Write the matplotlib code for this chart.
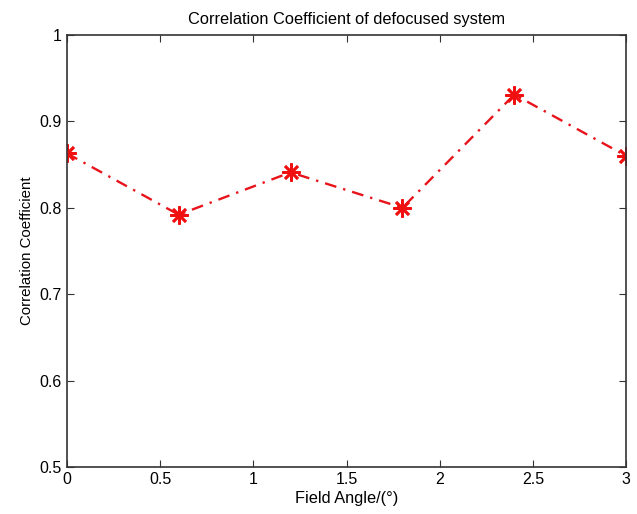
import matplotlib.pyplot as plt
import numpy as np

field_angle = [0, 0.6, 1.2, 1.8, 2.4, 3.0]
corr_coef = [0.863, 0.792, 0.841, 0.800, 0.931, 0.860]

xticks = [0, 0.5, 1, 1.5, 2, 2.5, 3]
xticklabels = ["0", "0.5", "1", "1.5", "2", "2.5", "3"]
yticks = [0.5, 0.6, 0.7, 0.8, 0.9, 1.0]
yticklabels = ["0.5", "0.6", "0.7", "0.8", "0.9", "1"]

plt.rcParams['font.family'] = ['Liberation Sans', 'DejaVu Sans']

fig = plt.figure(figsize=(6.37, 5.14), dpi=100)
ax = fig.add_axes([0.105, 0.0914, 0.878, 0.8406])

line, = ax.plot(field_angle, corr_coef, color='#e8141c', linestyle='-.', linewidth=1.7,
                marker=(8, 2, 0), markersize=13, markeredgewidth=1.9, markeredgecolor='#f01010')
line.set_dashes([5, 3, 1, 3])

ax.set_xlim(0, 3)
ax.set_ylim(0.5, 1)
ax.set_xticks(xticks)
ax.set_xticklabels(xticklabels)
ax.set_yticks(yticks)
ax.set_yticklabels(yticklabels)
ax.tick_params(direction='in', top=True, right=True, length=5, labelsize=11.5, color='#333333')
for s in ax.spines.values():
    s.set_color('#333333')
    s.set_linewidth(1.2)

ax.set_title("Correlation Coefficient of defocused system", fontsize=11.8, pad=8)
ax.set_xlabel("Field Angle/(°)", fontsize=11.8, labelpad=3)
ax.set_ylabel("Correlation Coefficient", fontsize=10.8)

fig.savefig("out.png", dpi=100)
